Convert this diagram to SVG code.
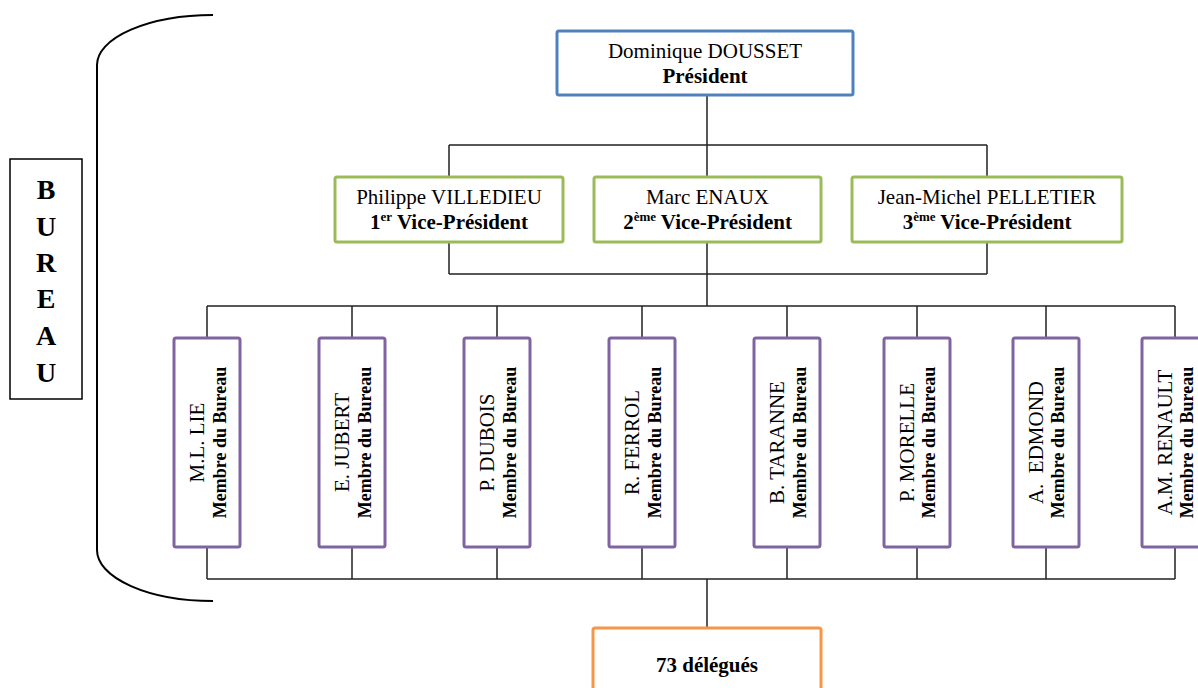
<svg xmlns="http://www.w3.org/2000/svg" width="1198" height="688" viewBox="0 0 1198 688">
<style>
.t{font-family:"Liberation Serif","Times New Roman",serif;font-size:21px;fill:#000;text-anchor:middle}
.b{font-weight:bold}
.s{font-size:18px;font-weight:bold}
.sup{font-size:13px;font-weight:bold}
.box{fill:#fff;stroke-width:3}
.blue{stroke:#4F81BD}
.green{stroke:#9BBB59}
.purple{stroke:#8064A2}
.orange{stroke:#F79646}
.ln{stroke:#222;stroke-width:1.5;fill:none}
</style>
<rect width="1198" height="688" fill="#fff"/>
<g id="connectors">
<path class="ln" d="M707,95 V177 M449,145 H987 M449,145 V177 M987,145 V177"/>
<path class="ln" d="M449,242 V274 M707,242 V306 M987,242 V274 M449,274 H987"/>
<path class="ln" d="M207,306 H1175 M207,306 V338 M352,306 V338 M497,306 V338 M642,306 V338 M787,306 V338 M917,306 V338 M1046,306 V338 M1175,306 V338"/>
<path class="ln" d="M207,579 H1175 M207,547 V579 M352,547 V579 M497,547 V579 M642,547 V579 M787,547 V579 M917,547 V579 M1046,547 V579 M1175,547 V579 M707,579 V628"/>
</g>
<g id="bracket">
<path d="M213,15 A116,50 0 0 0 97,65 L97,550 A116,51 0 0 0 213,601" fill="none" stroke="#000" stroke-width="2"/>
</g>
<g id="bureau">
<rect x="10" y="159" width="72" height="240" fill="#fff" stroke="#000" stroke-width="1.5"/>
<text class="t b" style="font-size:28px" x="46"><tspan x="46" y="199">B</tspan><tspan x="46" y="236">U</tspan><tspan x="46" y="272">R</tspan><tspan x="46" y="308">E</tspan><tspan x="46" y="345">A</tspan><tspan x="46" y="382">U</tspan></text>
</g>
<g id="president">
<rect class="box blue" x="557" y="31" width="296" height="64" rx="2"/>
<text class="t" x="705" y="57.5">Dominique DOUSSET</text>
<text class="t b" x="705" y="82.5">Président</text>
</g>
<g id="vp1">
<rect class="box green" x="335" y="177" width="228" height="65" rx="2"/>
<text class="t" x="449" y="204">Philippe VILLEDIEU</text>
<text class="t b" x="449" y="229">1<tspan class="sup" dy="-8">er</tspan><tspan dy="8"> Vice-Président</tspan></text>
</g>
<g id="vp2">
<rect class="box green" x="594" y="177" width="227" height="65" rx="2"/>
<text class="t" x="707.5" y="204">Marc ENAUX</text>
<text class="t b" x="707.5" y="229">2<tspan class="sup" dy="-8">ème</tspan><tspan dy="8"> Vice-Président</tspan></text>
</g>
<g id="vp3">
<rect class="box green" x="852" y="177" width="270" height="65" rx="2"/>
<text class="t" x="987" y="204">Jean-Michel PELLETIER</text>
<text class="t b" x="987" y="229">3<tspan class="sup" dy="-8">ème</tspan><tspan dy="8"> Vice-Président</tspan></text>
</g>
<g id="m1">
<rect class="box purple" x="174" y="338" width="66" height="209" rx="2"/>
<text class="t" transform="rotate(-90 204 442.5)" x="204" y="442.5">M.L. LIE</text>
<text class="t s" transform="rotate(-90 226 442.5)" x="226" y="442.5">Membre du Bureau</text>
</g>
<g id="m2">
<rect class="box purple" x="319" y="338" width="66" height="209" rx="2"/>
<text class="t" transform="rotate(-90 349 442.5)" x="349" y="442.5">E. JUBERT</text>
<text class="t s" transform="rotate(-90 371 442.5)" x="371" y="442.5">Membre du Bureau</text>
</g>
<g id="m3">
<rect class="box purple" x="464" y="338" width="66" height="209" rx="2"/>
<text class="t" transform="rotate(-90 494 442.5)" x="494" y="442.5">P. DUBOIS</text>
<text class="t s" transform="rotate(-90 516 442.5)" x="516" y="442.5">Membre du Bureau</text>
</g>
<g id="m4">
<rect class="box purple" x="609" y="338" width="66" height="209" rx="2"/>
<text class="t" transform="rotate(-90 639 442.5)" x="639" y="442.5">R. FERROL</text>
<text class="t s" transform="rotate(-90 661 442.5)" x="661" y="442.5">Membre du Bureau</text>
</g>
<g id="m5">
<rect class="box purple" x="754" y="338" width="66" height="209" rx="2"/>
<text class="t" transform="rotate(-90 784 442.5)" x="784" y="442.5">B. TARANNE</text>
<text class="t s" transform="rotate(-90 806 442.5)" x="806" y="442.5">Membre du Bureau</text>
</g>
<g id="m6">
<rect class="box purple" x="884" y="338" width="66" height="209" rx="2"/>
<text class="t" transform="rotate(-90 914 442.5)" x="914" y="442.5">P. MORELLE</text>
<text class="t s" transform="rotate(-90 935 442.5)" x="935" y="442.5">Membre du Bureau</text>
</g>
<g id="m7">
<rect class="box purple" x="1013" y="338" width="66" height="209" rx="2"/>
<text class="t" transform="rotate(-90 1043 442.5)" x="1043" y="442.5" xml:space="preserve">A.  EDMOND</text>
<text class="t s" transform="rotate(-90 1064 442.5)" x="1064" y="442.5">Membre du Bureau</text>
</g>
<g id="m8">
<rect class="box purple" x="1142" y="338" width="66" height="209" rx="2"/>
<text class="t" transform="rotate(-90 1172 442.5)" x="1172" y="442.5">A.M. RENAULT</text>
<text class="t s" transform="rotate(-90 1193 442.5)" x="1193" y="442.5">Membre du Bureau</text>
</g>
<g id="delegues">
<rect class="box orange" x="593" y="628" width="228" height="70" rx="2"/>
<text class="t b" x="707" y="672">73 délégués</text>
</g>
</svg>
